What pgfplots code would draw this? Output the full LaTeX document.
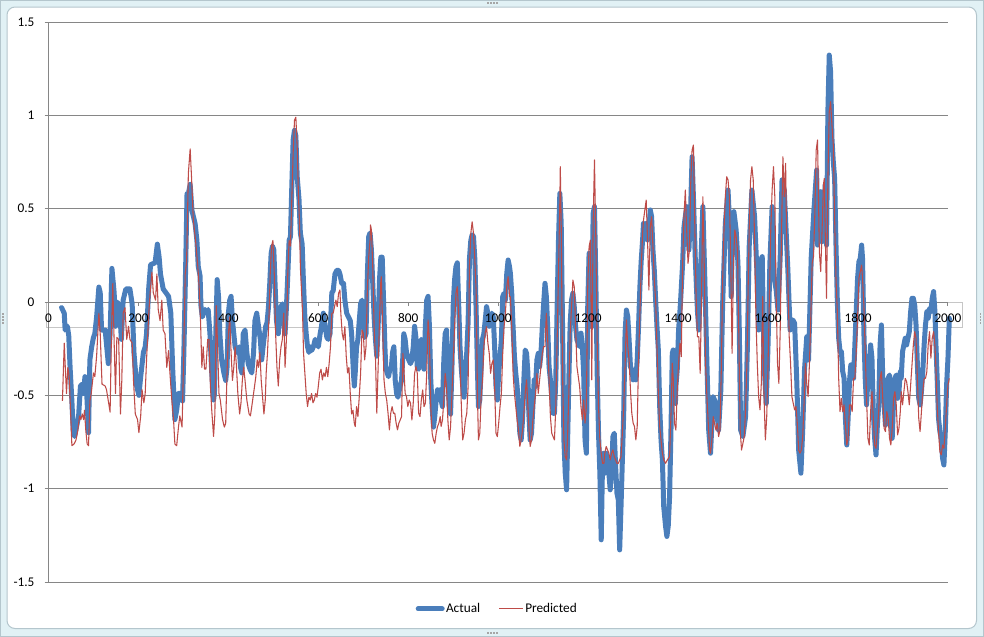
\documentclass[border=0pt]{standalone}
\usepackage{fontspec}
\setmainfont{Carlito}
\usepackage{pgfplots}
\usepackage{pgfplotstable}
\pgfplotsset{compat=1.18}
\definecolor{actual}{HTML}{4A7EBB}
\definecolor{pred}{HTML}{BE4B48}
\definecolor{gridgray}{HTML}{868686}
\definecolor{outerfill}{HTML}{E1F1F5}
\definecolor{framegray}{HTML}{B4C6CD}

\pgfplotsset{
  layers/labelsontop/.define layer set={
    axis background,axis grid,axis ticks,axis lines,pre main,main,axis tick labels,axis descriptions,axis foreground
  }{
    grid style={/pgfplots/on layer=axis grid},
    tick style={/pgfplots/on layer=axis ticks},
    axis line style={/pgfplots/on layer=axis lines},
    label style={/pgfplots/on layer=axis descriptions},
    legend style={/pgfplots/on layer=axis descriptions},
    title style={/pgfplots/on layer=axis descriptions},
    colorbar style={/pgfplots/on layer=axis descriptions},
    ticklabel style={/pgfplots/on layer=axis tick labels},
    axis background@ style={/pgfplots/on layer=axis background},
    3d box foreground style={/pgfplots/on layer=axis foreground},
  },
}

\pgfplotstableread{
x y
29 -0.03
35 -0.06
37 -0.15
42 -0.13
45 -0.18
48 -0.35
52 -0.53
55 -0.69
58 -0.72
63 -0.66
67 -0.61
71 -0.45
75 -0.44
78 -0.49
81 -0.40
85 -0.49
89 -0.70
92 -0.31
96 -0.24
100 -0.19
103 -0.17
107 -0.08
112 0.08
115 0.05
118 -0.15
126 -0.15
133 -0.33
137 -0.17
141 0.18
146 0.05
149 -0.13
153 0.00
158 -0.03
162 -0.20
166 0.01
172 0.07
181 0.07
186 -0.01
190 -0.27
196 -0.45
201 -0.50
205 -0.40
211 -0.27
215 -0.24
218 -0.17
223 0.08
227 0.20
237 0.21
242 0.31
246 0.24
249 0.15
255 0.07
267 0.03
272 -0.06
276 -0.35
281 -0.63
285 -0.58
289 -0.49
294 -0.49
298 -0.53
301 -0.27
305 0.19
308 0.58
311 0.58
315 0.63
319 0.49
326 0.42
330 0.33
333 0.19
337 0.14
339 -0.02
342 -0.08
345 -0.06
348 -0.04
352 -0.06
355 -0.04
359 -0.17
363 -0.38
367 -0.525
369 -0.49
372 -0.17
375 0.12
378 0.03
381 -0.17
385 -0.31
390 -0.38
394 -0.42
397 -0.35
400 -0.06
403 0.01
406 0.03
409 -0.10
412 -0.17
415 -0.24
419 -0.27
424 -0.24
427 -0.35
430 -0.38
433 -0.17
437 -0.15
441 -0.27
444 -0.33
448 -0.36
452 -0.38
456 -0.27
459 -0.10
463 -0.06
467 -0.13
471 -0.20
474 -0.31
479 -0.20
483 -0.13
486 -0.11
489 -0.03
492 0.10
495 0.26
498 0.30
501 0.28
504 0.08
507 -0.10
511 -0.17
516 -0.03
520 -0.01
523 -0.10
526 -0.17
529 -0.03
532 0.14
535 0.33
538 0.35
541 0.62
544 0.87
547 0.92
550 0.89
553 0.67
557 0.55
560 0.37
564 0.31
567 0.10
570 -0.08
573 -0.17
576 -0.24
579 -0.27
582 -0.24
585 -0.26
589 -0.24
593 -0.20
596 -0.22
600 -0.24
604 -0.17
607 -0.13
611 -0.06
615 -0.13
619 -0.19
622 -0.20
626 -0.17
630 0.05
633 0.06
637 0.15
641 0.17
645 0.17
648 0.15
652 0.10
656 0.10
659 0.01
663 -0.06
667 -0.08
671 -0.10
674 -0.17
678 -0.38
680 -0.45
682 -0.38
685 -0.24
688 -0.20
691 -0.10
694 -0.01
697 0.01
700 -0.10
703 -0.19
706 -0.17
709 0.15
712 0.35
715 0.37
718 0.28
721 0.10
724 -0.08
727 -0.20
730 -0.29
733 -0.13
736 0.12
739 0.24
742 0.24
745 0.01
748 -0.24
750 -0.35
753 -0.38
756 -0.40
759 -0.36
762 -0.36
765 -0.27
768 -0.24
771 -0.42
774 -0.49
777 -0.51
782 -0.45
785 -0.42
788 -0.29
790 -0.17
793 -0.20
796 -0.27
801 -0.31
805 -0.33
808 -0.31
811 -0.24
814 -0.13
817 -0.19
820 -0.35
823 -0.36
826 -0.27
829 -0.20
832 -0.22
835 -0.36
838 -0.13
841 0.01
844 0.03
847 -0.13
850 -0.42
853 -0.56
856 -0.67
859 -0.61
862 -0.525
865 -0.47
868 -0.51
871 -0.47
873 -0.525
876 -0.56
879 -0.31
882 -0.17
885 -0.15
888 -0.36
891 -0.56
894 -0.60
897 -0.36
900 -0.01
903 0.12
906 0.19
909 0.21
912 -0.01
915 -0.24
918 -0.36
921 -0.45
924 -0.51
927 -0.38
930 -0.27
933 -0.11
936 0.23
939 0.33
942 0.36
945 0.35
948 0.23
951 -0.06
954 -0.38
956 -0.56
959 -0.525
962 -0.35
965 -0.20
968 -0.17
971 -0.10
974 -0.025
977 -0.06
980 -0.13
983 -0.10
986 -0.06
989 -0.08
992 -0.24
995 -0.45
998 -0.525
1001 -0.38
1004 -0.29
1007 -0.20
1010 0.029
1013 0.047
1016 0.011
1019 0.154
1022 0.225
1025 0.19
1027 0.154
1030 0.047
1033 -0.132
1036 -0.292
1039 -0.382
1042 -0.453
1045 -0.560
1048 -0.703
1051 -0.739
1054 -0.632
1057 -0.417
1060 -0.257
1063 -0.275
1066 -0.382
1068 -0.596
1071 -0.739
1074 -0.703
1077 -0.560
1080 -0.417
1083 -0.453
1086 -0.310
1089 -0.275
1092 -0.346
1095 -0.275
1098 -0.132
1101 -0.007
1104 0.100
1107 0.029
1110 -0.132
1113 -0.346
1116 -0.417
1119 -0.507
1122 -0.596
1125 -0.596
1128 -0.417
1131 -0.025
1134 0.332
1137 0.582
1140 0.421
1143 -0.132
1146 -0.739
1149 -0.917
1152 -1.006
1154 -0.775
1157 -0.417
1160 -0.114
1163 0.011
1166 0.047
1169 -0.025
1172 -0.132
1175 -0.203
1178 -0.221
1181 -0.239
1184 -0.167
1187 -0.239
1190 -0.382
1193 -0.739
1196 -0.810
1199 -0.025
1202 0.261
1205 0.064
1208 -0.132
1211 0.475
1214 0.511
1217 0.118
1220 -0.382
1223 -0.703
1226 -0.917
1229 -1.274
1232 -0.846
1235 -0.810
1237 -0.917
1240 -0.810
1243 -0.881
1246 -0.917
1249 -1.006
1252 -0.917
1255 -0.721
1258 -0.703
1261 -0.881
1264 -1.024
1267 -1.060
1270 -1.328
1273 -1.096
1276 -0.846
1279 -0.596
1282 -0.167
1285 -0.043
1288 -0.078
1291 -0.203
1294 -0.346
1297 -0.364
1300 -0.417
1303 -0.382
1306 -0.417
1309 -0.310
1312 -0.132
1315 0.082
1318 0.225
1321 0.332
1323 0.421
1326 0.386
1329 0.421
1332 0.332
1335 0.386
1338 0.493
1341 0.457
1344 0.279
1347 0.171
1350 0.011
1353 -0.132
1356 -0.257
1359 -0.560
1362 -0.739
1365 -0.846
1368 -1.096
1372 -1.20
1375 -1.256
1378 -1.20
1381 -1.042
1384 -0.70
1387 -0.275
1389 -0.257
1392 -0.45
1394 -0.543
1395 -0.45
1398 -0.364
1401 -0.150
1404 -0.05
1406 0.029
1410 0.207
1413 0.40
1415 0.439
1419 0.511
1424 0.279
1428 0.511
1431 0.778
1434 0.564
1438 0.243
1443 -0.05
1446 -0.150
1450 0.172
1455 0.511
1459 0.154
1464 -0.328
1468 -0.686
1472 -0.810
1478 -0.507
1484 -0.543
1490 -0.686
1495 -0.471
1499 -0.007
1505 0.422
1511 0.600
1515 0.386
1518 0.029
1521 0.386
1524 0.484
1529 0.386
1533 0.207
1536 -0.150
1539 -0.686
1544 -0.721
1550 -0.614
1554 -0.239
1558 0.297
1564 0.600
1570 0.457
1575 0.172
1579 -0.150
1584 0.225
1587 0.243
1591 -0.328
1596 -0.543
1600 -0.221
1604 0.207
1609 0.511
1613 0.136
1618 0.065
1622 -0.043
1627 0.243
1631 0.654
1636 0.600
1640 0.386
1644 0.172
1649 -0.150
1655 -0.096
1659 -0.114
1664 -0.436
1668 -0.793
1673 -0.917
1677 -0.686
1681 -0.364
1686 -0.186
1690 -0.310
1696 0.243
1702 0.493
1708 0.707
1710 0.305
1713 0.520
1717 0.591
1720 0.323
1723 0.377
1727 0.627
1730 0.305
1733 1.02
1736 1.323
1739 1.234
1742 0.877
1745 0.752
1748 0.662
1751 0.305
1754 0.002
1757 -0.194
1760 -0.266
1763 -0.266
1766 -0.373
1769 -0.409
1772 -0.623
1775 -0.766
1778 -0.623
1781 -0.426
1784 -0.337
1787 -0.337
1790 -0.409
1793 -0.230
1796 -0.052
1799 0.127
1802 0.216
1805 0.234
1808 0.305
1810 0.234
1813 -0.159
1816 -0.409
1819 -0.551
1822 -0.409
1825 -0.337
1828 -0.230
1831 -0.301
1834 -0.587
1837 -0.730
1840 -0.819
1843 -0.659
1846 -0.551
1849 -0.230
1852 -0.123
1855 -0.409
1858 -0.551
1861 -0.659
1864 -0.623
1867 -0.409
1870 -0.391
1873 -0.587
1876 -0.730
1879 -0.533
1882 -0.409
1885 -0.391
1888 -0.516
1891 -0.480
1894 -0.373
1896 -0.409
1899 -0.266
1902 -0.230
1905 -0.194
1908 -0.230
1911 -0.194
1914 -0.159
1917 -0.052
1920 0.020
1923 0.020
1926 -0.016
1929 -0.123
1932 -0.337
1935 -0.516
1938 -0.551
1941 -0.480
1944 -0.373
1947 -0.230
1950 -0.123
1953 -0.052
1956 -0.087
1959 -0.034
1962 -0.052
1965 0.020
1968 0.056
1971 -0.052
1973 -0.212
1976 -0.409
1979 -0.623
1982 -0.694
1985 -0.730
1988 -0.837
1991 -0.873
1994 -0.694
1997 -0.444
2000 -0.301
2003 -0.087
}\actualdata

\pgfplotstableread{
x y
31 -0.53
35 -0.22
37 -0.33
40 -0.49
43 -0.35
46 -0.40
49 -0.58
52 -0.77
57 -0.76
61 -0.74
65 -0.69
69 -0.61
72 -0.63
75 -0.60
78 -0.63
80 -0.58
83 -0.69
86 -0.76
89 -0.77
92 -0.53
95 -0.49
100 -0.38
103 -0.40
107 -0.29
112 -0.06
115 -0.17
119 -0.44
126 -0.45
129 -0.47
133 -0.53
137 -0.59
140 -0.17
143 0.10
146 -0.22
149 -0.49
152 -0.19
156 -0.20
160 -0.60
163 -0.42
166 -0.06
170 -0.03
174 -0.20
178 -0.13
181 -0.20
186 -0.22
189 -0.42
193 -0.60
198 -0.63
201 -0.70
205 -0.61
208 -0.47
212 -0.54
215 -0.49
218 -0.31
223 -0.06
226 0.05
230 0.16
233 0.05
238 0.01
241 0.15
244 -0.04
248 -0.10
252 0.01
255 -0.15
259 -0.17
263 -0.35
267 -0.26
270 -0.38
274 -0.52
278 -0.63
281 -0.76
285 -0.77
289 -0.67
292 -0.61
297 -0.67
300 -0.35
304 0.15
307 0.21
311 0.69
315 0.82
318 0.67
322 0.44
327 0.33
332 0.19
335 0.08
338 -0.10
341 -0.35
344 -0.24
347 -0.36
350 -0.36
354 -0.20
357 -0.20
360 -0.45
363 -0.58
367 -0.72
370 -0.60
373 -0.02
376 -0.24
379 -0.49
382 -0.525
387 -0.63
391 -0.67
394 -0.65
397 -0.38
400 -0.17
403 -0.08
406 -0.27
409 -0.42
412 -0.35
415 -0.24
418 -0.35
421 -0.49
425 -0.60
428 -0.54
431 -0.42
434 -0.35
437 -0.42
441 -0.525
446 -0.60
449 -0.61
452 -0.56
456 -0.49
461 -0.40
464 -0.31
467 -0.35
470 -0.27
473 -0.42
476 -0.51
479 -0.60
482 -0.525
484 -0.38
487 -0.27
490 -0.10
493 0.15
496 0.30
499 0.33
502 0.15
505 -0.17
508 -0.35
511 -0.45
514 -0.31
517 -0.24
520 -0.20
523 -0.06
526 -0.35
529 -0.20
532 0.15
535 0.33
538 0.30
541 0.55
544 0.80
547 0.975
550 0.99
553 0.83
556 0.55
558 0.44
560 0.19
565 -0.06
567 -0.27
570 -0.38
573 -0.49
576 -0.56
579 -0.51
582 -0.525
585 -0.49
588 -0.54
591 -0.525
594 -0.49
597 -0.51
600 -0.45
603 -0.38
606 -0.36
609 -0.417
612 -0.38
615 -0.40
618 -0.35
621 -0.40
624 -0.33
627 -0.24
630 -0.06
633 -0.06
636 -0.025
639 0.01
642 -0.025
645 0.047
648 0.065
650 -0.06
653 -0.168
656 -0.203
659 -0.132
662 -0.29
665 -0.38
668 -0.35
671 -0.49
674 -0.60
677 -0.58
680 -0.65
682 -0.667
685 -0.56
688 -0.614
691 -0.507
694 -0.382
697 -0.15
700 -0.167
703 -0.31
706 -0.239
709 0.064
712 0.243
715 0.332
716 0.413
718 0.386
721 0.189
724 -0.132
727 -0.292
730 -0.596
733 -0.346
736 -0.096
739 0.118
740 0.136
743 -0.132
746 -0.417
749 -0.489
752 -0.525
755 -0.596
758 -0.685
761 -0.596
764 -0.560
767 -0.596
770 -0.596
773 -0.649
776 -0.685
779 -0.649
782 -0.632
785 -0.614
788 -0.275
790 -0.346
793 -0.489
796 -0.507
799 -0.560
802 -0.525
805 -0.542
808 -0.632
811 -0.542
814 -0.382
817 -0.346
820 -0.382
823 -0.596
826 -0.614
829 -0.525
832 -0.471
835 -0.560
838 -0.542
841 -0.382
844 -0.096
847 -0.203
850 -0.560
853 -0.703
856 -0.739
859 -0.757
862 -0.703
865 -0.667
868 -0.649
871 -0.614
873 -0.667
876 -0.632
879 -0.525
882 -0.382
885 -0.453
888 -0.632
891 -0.739
894 -0.667
897 -0.489
900 -0.310
903 -0.132
906 0.047
909 0.082
912 -0.060
915 -0.310
918 -0.560
921 -0.739
924 -0.703
927 -0.632
930 -0.596
933 -0.453
936 0.189
939 0.368
942 0.430
945 0.368
948 0.225
951 0.047
954 -0.525
956 -0.739
959 -0.703
962 -0.507
965 -0.417
968 -0.239
971 -0.167
974 -0.132
977 -0.221
980 -0.275
983 -0.382
986 -0.328
989 -0.310
992 -0.453
995 -0.703
998 -0.721
1001 -0.649
1004 -0.560
1007 -0.489
1010 -0.275
1013 -0.132
1016 -0.060
1019 0.082
1022 0.136
1025 0.029
1027 0.029
1030 -0.132
1033 -0.382
1036 -0.489
1039 -0.560
1042 -0.632
1045 -0.685
1048 -0.774
1051 -0.739
1054 -0.685
1057 -0.596
1060 -0.489
1063 -0.417
1066 -0.560
1068 -0.667
1071 -0.774
1074 -0.739
1077 -0.632
1080 -0.560
1083 -0.489
1086 -0.382
1089 -0.489
1092 -0.417
1095 -0.346
1098 -0.275
1101 -0.239
1104 -0.239
1107 -0.060
1110 -0.203
1113 -0.417
1116 -0.614
1119 -0.703
1122 -0.721
1125 -0.739
1128 -0.560
1131 -0.203
1134 0.154
1137 0.546
1138 0.725
1140 0.421
1143 -0.382
1146 -0.739
1149 -0.828
1152 -0.846
1154 -0.739
1157 -0.489
1160 -0.167
1163 -0.025
1166 0.118
1169 0.082
1172 -0.132
1175 -0.346
1178 -0.400
1181 -0.453
1184 -0.560
1187 -0.632
1190 -0.525
1193 -0.649
1196 -0.560
1199 0.082
1202 0.296
1205 0.332
1208 -0.417
1211 0.421
1214 0.761
1217 0.332
1220 -0.203
1223 -0.560
1226 -0.739
1229 -0.810
1232 -0.864
1235 -0.864
1237 -0.810
1240 -0.774
1243 -0.792
1246 -0.810
1249 -0.846
1252 -0.810
1255 -0.792
1258 -0.828
1261 -0.846
1264 -0.864
1267 -0.864
1270 -0.846
1273 -0.828
1276 -0.703
1279 -0.560
1282 -0.346
1285 -0.096
1288 -0.239
1291 -0.310
1294 -0.471
1297 -0.596
1300 -0.649
1303 -0.667
1306 -0.739
1309 -0.667
1312 -0.310
1315 -0.060
1318 0.189
1321 0.368
1323 0.439
1326 0.493
1329 0.546
1332 0.332
1335 0.064
1338 0.404
1341 0.457
1344 0.296
1347 0.118
1350 0.011
1353 -0.239
1356 -0.489
1359 -0.667
1362 -0.739
1365 -0.810
1368 -0.846
1372 -0.864
1376 -0.846
1381 -0.828
1384 -0.614
1387 -0.328
1389 -0.400
1392 -0.650
1395 -0.686
1398 -0.471
1401 -0.328
1404 -0.221
1407 -0.293
1410 0.207
1413 0.457
1416 0.600
1419 0.386
1422 0.207
1425 0.279
1428 0.636
1431 0.814
1434 0.841
1437 0.422
1440 0.029
1443 -0.186
1446 -0.186
1449 -0.382
1452 0.029
1455 0.564
1458 0.207
1461 -0.328
1464 -0.507
1467 -0.650
1470 -0.793
1472 -0.810
1475 -0.739
1478 -0.614
1481 -0.650
1484 -0.686
1487 -0.650
1490 -0.721
1493 -0.686
1496 -0.364
1499 0.118
1502 0.386
1505 0.564
1508 0.671
1511 0.654
1514 0.564
1517 0.207
1520 -0.275
1523 0.207
1526 0.386
1529 0.350
1532 0.279
1535 -0.186
1538 -0.686
1541 -0.793
1544 -0.757
1547 -0.721
1550 -0.578
1553 -0.328
1556 0.118
1558 0.386
1561 0.654
1564 0.725
1567 0.654
1570 0.332
1573 -0.078
1576 -0.328
1579 -0.507
1582 -0.578
1585 -0.436
1588 0.029
1591 -0.507
1594 -0.739
1597 -0.614
1600 -0.328
1603 0.029
1606 0.386
1609 0.600
1612 0.725
1615 0.564
1618 0.029
1621 -0.328
1624 -0.436
1627 -0.150
1630 0.386
1633 0.778
1636 0.564
1639 0.743
1641 0.386
1644 0.118
1647 -0.186
1650 -0.328
1653 -0.507
1656 -0.543
1659 -0.578
1662 -0.560
1665 -0.650
1668 -0.793
1671 -0.810
1674 -0.793
1677 -0.721
1680 -0.543
1683 -0.328
1686 -0.436
1689 -0.507
1692 -0.328
1695 -0.078
1698 0.207
1701 0.243
1704 0.475
1707 0.814
1710 0.868
1714 0.270
1717 0.163
1720 0.377
1723 0.627
1725 0.662
1727 0.377
1730 0.020
1733 0.662
1736 1.020
1739 1.073
1742 0.948
1745 0.841
1748 0.448
1751 0.127
1754 -0.052
1757 -0.409
1760 -0.587
1763 -0.516
1766 -0.587
1769 -0.551
1772 -0.659
1775 -0.766
1778 -0.730
1781 -0.551
1784 -0.551
1787 -0.587
1790 -0.409
1793 -0.409
1796 -0.266
1799 -0.087
1802 0.127
1805 0.163
1808 0.198
1810 0.127
1813 -0.016
1816 -0.266
1819 -0.516
1822 -0.730
1825 -0.766
1828 -0.587
1831 -0.480
1834 -0.623
1837 -0.766
1840 -0.784
1843 -0.694
1846 -0.587
1849 -0.409
1852 -0.373
1855 -0.516
1858 -0.677
1861 -0.694
1864 -0.587
1867 -0.623
1870 -0.730
1873 -0.766
1876 -0.677
1879 -0.516
1882 -0.480
1885 -0.551
1888 -0.712
1891 -0.677
1894 -0.587
1896 -0.480
1899 -0.551
1902 -0.480
1905 -0.409
1908 -0.426
1911 -0.480
1914 -0.551
1917 -0.444
1920 -0.337
1923 -0.230
1926 -0.159
1929 -0.194
1932 -0.409
1935 -0.623
1938 -0.694
1941 -0.587
1944 -0.480
1947 -0.409
1950 -0.409
1953 -0.373
1956 -0.230
1959 -0.159
1962 -0.301
1965 -0.194
1968 -0.159
1971 -0.230
1973 -0.337
1976 -0.551
1979 -0.694
1982 -0.801
1985 -0.819
1988 -0.766
1991 -0.784
1994 -0.677
1997 -0.551
2000 -0.444
2003 -0.409
}\preddata

\begin{document}
\begin{tikzpicture}
\pgfplotsset{set layers=labelsontop}
% chart area frame (pixel units of the 984x637 reference), below everything
\begin{pgfonlayer}{axis background}
\begin{scope}[x=0.75bp,y=-0.75bp]
  \fill[outerfill] (0,0) rectangle (984,637);
  \draw[framegray, line width=0.75bp] (0.5,0.5) rectangle (983.5,636.5);
  \draw[framegray, line width=0.75bp, fill=white, rounded corners=6bp] (7,7) rectangle (976.5,628.5);
  \foreach \i in {0,1,2,3} {
    \fill[gray!70] (487+3*\i,2.3) rectangle ++(1.6,1.6);
    \fill[gray!70] (487+3*\i,632.3) rectangle ++(1.6,1.6);
    \fill[gray!70] (2.3,313+3*\i) rectangle ++(1.6,1.6);
    \fill[gray!70] (979.5,313+3*\i) rectangle ++(1.6,1.6);
  }
  \draw[gray!45, line width=0.75bp] (46,302) -- (962,302) -- (962,327) -- (46,327) -- cycle;
\end{scope}
\end{pgfonlayer}
\begin{axis}[
  at={(36.375bp,-436.5bp)}, anchor=south west,
  scale only axis, width=674.6bp, height=420bp,
  xmin=0, xmax=2000, ymin=-1.5, ymax=1.5,
  axis x line*=middle, axis y line*=left,
  hide obscured x ticks=false, hide obscured y ticks=false,
  axis line style={gridgray, line width=0.75bp},
  xtick={0,200,400,600,800,1000,1200,1400,1600,1800,2000},
  xticklabels={0,200,400,600,800,1000,1200,1400,1600,1800,2000},
  ytick={-1.5,-1,-0.5,0,0.5,1,1.5},
  yticklabels={-1.5,-1,-0.5,0,0.5,1,1.5},
  tick align=outside, major tick length=3bp,
  tick style={gridgray, line width=0.75bp},
  ymajorgrids, major grid style={gridgray, line width=0.75bp},
  ticklabel style={font=\fontsize{10}{12}\selectfont, text=black},
  /pgf/number format/assume math mode=true,
  yticklabel style={xshift=-4bp},
  xticklabel style={yshift=-2.2bp},
  legend columns=2,
  legend style={draw=none, fill=none, at={(0.4985,-0.048)}, anchor=center,
    font=\fontsize{10}{12}\selectfont, inner sep=0pt,
    nodes={inner xsep=1bp},
    /tikz/every even column/.append style={column sep=13bp}},
  legend cell align=left,
  legend image code/.code={\draw[#1] (0bp,0bp) -- (18bp,0bp);},
  clip=false,
]
\addplot[actual, line width=3.75bp, line join=round, line cap=round] table {\actualdata};
\addlegendentry{Actual}
\addplot[pred, line width=0.8bp, line join=round] table {\preddata};
\addlegendentry{Predicted}
\end{axis}
\end{tikzpicture}
\end{document}
